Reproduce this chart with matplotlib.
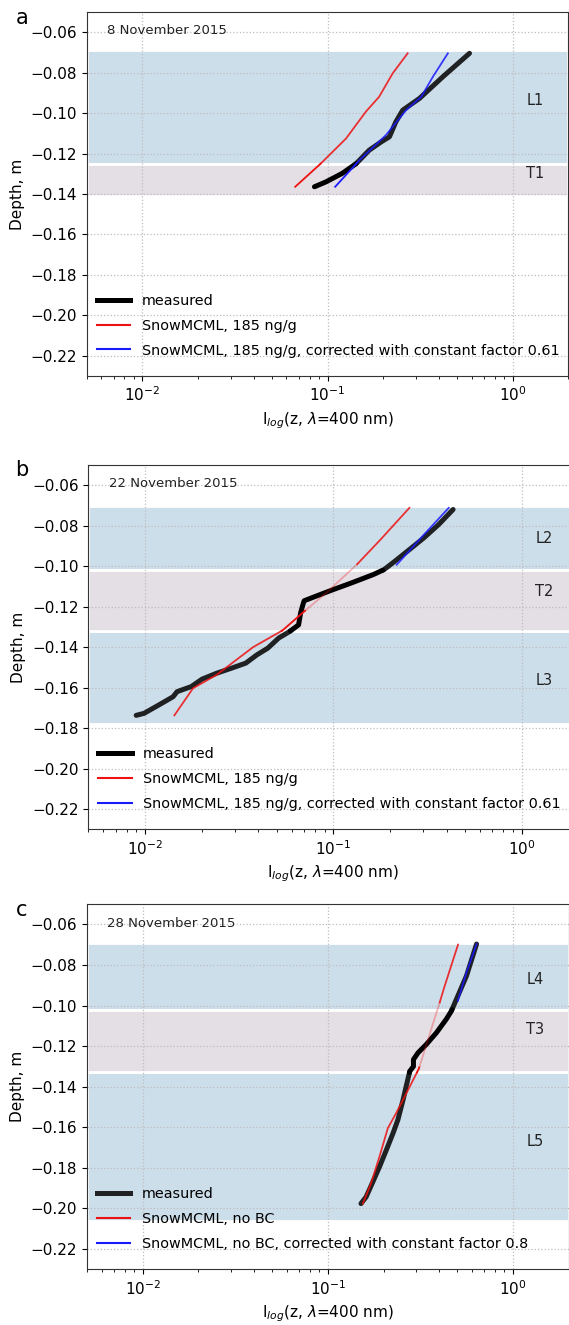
import numpy as np
import matplotlib
matplotlib.use('Agg')
import matplotlib.pyplot as plt
from matplotlib.lines import Line2D

# --- 8 November 2015 ---
meas_a_x = [0.585, 0.420, 0.314, 0.255, 0.234, 0.216, 0.195, 0.168, 0.143, 0.120, 0.098, 0.085]
meas_a_y = [-0.0704, -0.082, -0.0927, -0.0985, -0.1043, -0.1117, -0.1142, -0.1183, -0.1249, -0.1298, -0.134, -0.1364]
red_a_x = [0.271, 0.225, 0.190, 0.161, 0.126, 0.092, 0.0669]
red_a_y = [-0.0704, -0.0803, -0.0919, -0.0993, -0.1125, -0.1249, -0.1364]
blue_a_x = [0.447, 0.371, 0.321, 0.266, 0.207, 0.149, 0.110]
blue_a_y = [-0.0704, -0.082, -0.0919, -0.0985, -0.1108, -0.1232, -0.1364]

# --- 22 November 2015 ---
meas_b_x = [0.4325, 0.362, 0.3027, 0.2536, 0.212, 0.186, 0.1626, 0.1247, 0.0997, 0.080, 0.070,
            0.0685, 0.067, 0.0654, 0.0586, 0.0513, 0.0449, 0.0393, 0.0343, 0.0288, 0.0240,
            0.0201, 0.0176, 0.0148, 0.0141, 0.01183, 0.00989, 0.00898]
meas_b_y = [-0.072, -0.0795, -0.086, -0.0918, -0.0976, -0.1017, -0.1042, -0.1083, -0.1116, -0.115, -0.1171,
            -0.1199, -0.1232, -0.129, -0.1323, -0.1355, -0.1405, -0.1438, -0.1479, -0.1504, -0.1529,
            -0.1558, -0.1595, -0.162, -0.1645, -0.1686, -0.1727, -0.1737]
red_b_x = [0.2535, 0.178, 0.133, 0.0914, 0.070, 0.0536, 0.0375, 0.024, 0.018, 0.01432]
red_b_y = [-0.0712, -0.0869, -0.0993, -0.1133, -0.1224, -0.1318, -0.140, -0.1537, -0.1603, -0.1737]
blue_b_x = [0.410, 0.303, 0.217]
blue_b_y = [-0.0712, -0.0844, -0.0993]

# --- 28 November 2015 ---
meas_c_x = [0.636, 0.561, 0.495, 0.465, 0.436, 0.386, 0.340, 0.307, 0.290, 0.290, 0.277, 0.265,
            0.255, 0.239, 0.225, 0.207, 0.190, 0.175, 0.161, 0.151]
meas_c_y = [-0.0697, -0.0854, -0.0969, -0.1027, -0.1068, -0.1134, -0.1192, -0.1233, -0.1266, -0.1300,
            -0.1324, -0.1398, -0.1464, -0.1563, -0.1629, -0.1712, -0.1795, -0.1869, -0.1943, -0.1976]
red_c_x = [0.505, 0.428, 0.402, 0.310, 0.266, 0.234, 0.211, 0.190, 0.171, 0.1546]
red_c_y = [-0.070, -0.0903, -0.0985, -0.1312, -0.1431, -0.153, -0.1604, -0.1745, -0.1877, -0.1976]
blue_c_x = [0.636, 0.561, 0.504]
blue_c_y = [-0.0697, -0.0837, -0.0977]

# snow layers (top, bottom, name, label depth)
layers_a = [(-0.069, -0.125, 'L1', -0.0935)]
trans_a = [(-0.125, -0.141, 'T1', -0.1297)]
layers_b = [(-0.0705, -0.102, 'L2', -0.0863), (-0.132, -0.178, 'L3', -0.1565)]
trans_b = [(-0.102, -0.132, 'T2', -0.1127)]
layers_c = [(-0.069, -0.102, 'L4', -0.087), (-0.133, -0.206, 'L5', -0.167)]
trans_c = [(-0.102, -0.133, 'T3', -0.1117)]

# depth range where the model curve is only an interpolation
faint_a = None
faint_b = (-0.099, -0.122)
faint_c = (-0.0985, -0.1305)

dates = ['8 November 2015', '22 November 2015', '28 November 2015']
letters = ['a', 'b', 'c']
red_labels = ['SnowMCML, 185 ng/g', 'SnowMCML, 185 ng/g', 'SnowMCML, no BC']
blue_labels = ['SnowMCML, 185 ng/g, corrected with constant factor 0.61',
               'SnowMCML, 185 ng/g, corrected with constant factor 0.61',
               'SnowMCML, no BC, corrected with constant factor 0.8']

BLUE_BAND = '#cddeeb'
PINK_BAND = '#e4dee5'


def seg_alpha(y, layers, faint):
    if faint is not None and faint[1] <= y <= faint[0]:
        return 0.3
    for top, bot, _, _ in layers:
        if bot <= y <= top:
            return 0.85
    return 1.0


def draw_split(ax, x, y, layers, trans, faint, **kw):
    lx = np.log10(np.asarray(x, float))
    y = np.asarray(y, float)
    cuts = [b for l in layers + trans for b in l[:2]]
    if faint is not None:
        cuts += list(faint)
    px, py = [lx[0]], [y[0]]
    for i in range(len(y) - 1):
        y0, y1 = y[i], y[i + 1]
        inside = sorted([c for c in cuts if min(y0, y1) < c < max(y0, y1)], reverse=(y1 < y0))
        for c in inside:
            t = (c - y0) / (y1 - y0)
            px.append(lx[i] + t * (lx[i + 1] - lx[i]))
            py.append(c)
        px.append(lx[i + 1])
        py.append(y1)
    px, py = np.array(px), np.array(py)
    alphas = [seg_alpha(0.5 * (py[i] + py[i + 1]), layers, faint) for i in range(len(py) - 1)]
    start = 0
    for i in range(1, len(alphas) + 1):
        if i == len(alphas) or alphas[i] != alphas[start]:
            ax.plot(10 ** px[start:i + 1], py[start:i + 1], alpha=alphas[start], **kw)
            start = i


fig = plt.figure(figsize=(5.69, 13.25), dpi=100)
positions = [[0.1524, 0.7162, 0.8464, 0.2747],
             [0.1552, 0.3741, 0.8612, 0.2750],
             [0.1530, 0.0420, 0.8464, 0.2757]]

panels = [
    (meas_a_x, meas_a_y, red_a_x, red_a_y, blue_a_x, blue_a_y, layers_a, trans_a, faint_a),
    (meas_b_x, meas_b_y, red_b_x, red_b_y, blue_b_x, blue_b_y, layers_b, trans_b, faint_b),
    (meas_c_x, meas_c_y, red_c_x, red_c_y, blue_c_x, blue_c_y, layers_c, trans_c, faint_c),
]
meas_legend_alpha = [1.0, 1.0, 0.85]

for k, (mx, my, rx, ry, bx, by, layers, trans, faint) in enumerate(panels):
    ax = fig.add_axes(positions[k])
    ax.set_xscale('log')
    ax.set_xlim(0.005, 2)
    ax.set_ylim(-0.23, -0.05)
    ax.set_yticks(np.arange(-0.22, -0.059, 0.02))
    ax.set_axisbelow('line')
    ax.grid(True, which='major', linestyle=':', color='#bdbdbd', linewidth=0.9)

    for top, bot, name, ly in layers:
        ax.axhspan(bot, top, facecolor=BLUE_BAND, edgecolor='white', linewidth=2, zorder=0.3)
        ax.text(1.32, ly, name, ha='center', va='center', fontsize=10.5, color='#222222')
    for top, bot, name, ly in trans:
        ax.axhspan(bot, top, facecolor=PINK_BAND, edgecolor='white', linewidth=2, zorder=0.3)
        ax.text(1.32, ly, name, ha='center', va='center', fontsize=10.5, color='#222222')

    draw_split(ax, mx, my, layers, trans, None, color='black', lw=3.6,
               solid_capstyle='round', solid_joinstyle='round', zorder=3)
    draw_split(ax, rx, ry, layers, trans, faint, color='#ee1111', lw=1.3, zorder=4)
    draw_split(ax, bx, by, layers, trans, None, color='#1a1aff', lw=1.3, zorder=4)

    handles = [Line2D([], [], color='black', lw=3.6, alpha=meas_legend_alpha[k]),
               Line2D([], [], color='#ee1111', lw=1.5),
               Line2D([], [], color='#1a1aff', lw=1.5)]
    ax.legend(handles, ['measured', red_labels[k], blue_labels[k]], loc='lower left',
              frameon=False, fontsize=10.4, handlelength=2.3, labelspacing=0.75,
              borderaxespad=0.3, bbox_to_anchor=(0.0, 0.023))

    ax.text(0.042, 0.948, dates[k], transform=ax.transAxes, fontsize=9.5,
            ha='left', va='center', color='#222222')
    ax.text(-0.135, 0.985, letters[k], transform=ax.transAxes, fontsize=15,
            ha='center', va='center')
    ax.set_ylabel('Depth, m', fontsize=11)
    ax.set_xlabel(r'I$_{log}$(z, $\lambda$=400 nm)', fontsize=11)
    ax.tick_params(labelsize=11)
    for s in ax.spines.values():
        s.set_color('#333333')

fig.savefig('out.png', dpi=100)
plt.close(fig)
